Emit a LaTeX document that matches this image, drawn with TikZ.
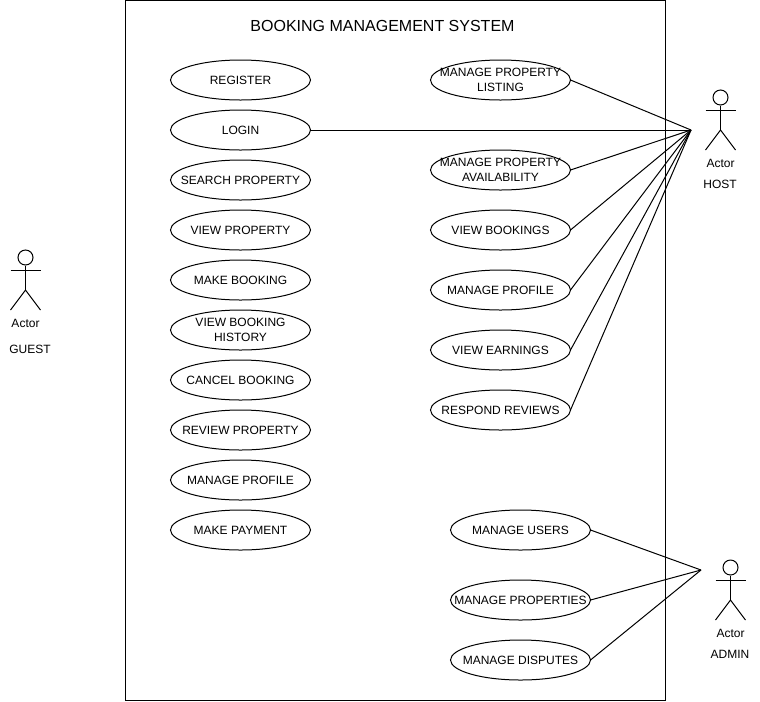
\documentclass[tikz,border=0pt]{standalone}
\usepackage{fontspec}
\setmainfont{Liberation Sans}
\usetikzlibrary{shapes.geometric,positioning}

\begin{document}
\begin{tikzpicture}[
    x=0.75pt, y=-0.75pt,
    line width=0.75pt,
    every node/.style={font=\fontsize{9}{11.25}\selectfont},
    usecase/.style={ellipse, draw, fill=white, align=center, inner sep=-15pt, outer sep=0pt, minimum width=105pt, minimum height=30pt},
    link/.style={line width=0.75pt},
    plainlabel/.style={inner sep=0pt},
    actorman/.pic={
        \node[circle, draw, inner sep=0pt, minimum size=11.25pt] (-head) at (0,0) {};
        \coordinate (-waist) at (0,32.5);
        \draw (-head.south) -- (-waist);
        \draw (-15,12.5) -- (15,12.5);
        \draw (-15,52.5) -- (-waist) -- (15,52.5);
        \node[plainlabel] (-name) at (0,65.5) {Actor};
    }
]

\useasboundingbox (0,0) rectangle (760,701);

% System boundary
\node[draw, rectangle, inner sep=0pt, outer sep=0pt, minimum width=405pt, minimum height=525pt] (system) at (395.5,350.5) {};
\node[plainlabel, font=\fontsize{12}{14}\selectfont] (title) at (382.5,25.5) {BOOKING MANAGEMENT SYSTEM};

% Guest use cases
\node[usecase] (register) at (240.5,80) {REGISTER};
\node[usecase, below=7.5pt of register] (login) {LOGIN};
\node[usecase, below=7.5pt of login] (search) {SEARCH PROPERTY};
\node[usecase, below=7.5pt of search] (viewprop) {VIEW PROPERTY};
\node[usecase, below=7.5pt of viewprop] (makebook) {MAKE BOOKING};
\node[usecase, below=7.5pt of makebook] (history) {VIEW BOOKING\\HISTORY};
\node[usecase, below=7.5pt of history] (cancel) {CANCEL BOOKING};
\node[usecase, below=7.5pt of cancel] (review) {REVIEW PROPERTY};
\node[usecase, below=7.5pt of review] (guestprofile) {MANAGE PROFILE};
\node[usecase, below=7.5pt of guestprofile] (payment) {MAKE PAYMENT};

% Host use cases
\node[usecase, right=90pt of register] (listing) {MANAGE PROPERTY\\LISTING};
\node[usecase, below=37.5pt of listing] (avail) {MANAGE PROPERTY\\AVAILABILITY};
\node[usecase, below=15pt of avail] (viewbook) {VIEW BOOKINGS};
\node[usecase, below=15pt of viewbook] (hostprofile) {MANAGE PROFILE};
\node[usecase, below=15pt of hostprofile] (earnings) {VIEW EARNINGS};
\node[usecase, below=15pt of earnings] (respond) {RESPOND REVIEWS};

% Admin use cases
\node[usecase, right=105pt of payment] (users) {MANAGE USERS};
\node[usecase, below=22.5pt of users] (properties) {MANAGE PROPERTIES};
\node[usecase, below=15pt of properties] (disputes) {MANAGE DISPUTES};

% Actors
\pic (guest) at (25.5,257.5) {actorman};
\node[plainlabel] (guestname) at (30,349.5) {GUEST};
\pic (host) at (720.5,97.5) {actorman};
\node[plainlabel] (hostname) at (720,184.5) {HOST};
\pic (admin) at (730.5,567.5) {actorman};
\node[plainlabel] (adminname) at (730,654.5) {ADMIN};

\coordinate (hosthub) at (691,130);
\coordinate (adminhub) at (701,570);

% Host links
\draw[link] (login.east) -- (hosthub);
\draw[link] (listing.east) -- (hosthub);
\draw[link] (avail.east) -- (hosthub);
\draw[link] (viewbook.east) -- (hosthub);
\draw[link] (hostprofile.east) -- (hosthub);
\draw[link] (earnings.east) -- (hosthub);
\draw[link] (respond.east) -- (hosthub);

% Admin links
\draw[link] (users.east) -- (adminhub);
\draw[link] (properties.east) -- (adminhub);
\draw[link] (disputes.east) -- (adminhub);

\end{tikzpicture}
\end{document}
